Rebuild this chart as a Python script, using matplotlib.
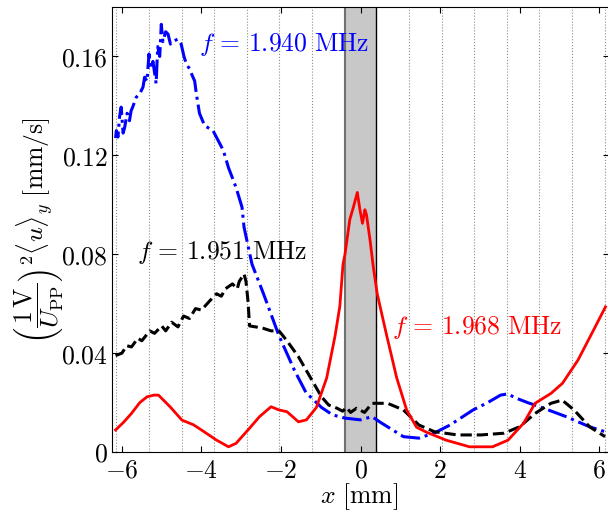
import numpy as np
import matplotlib
matplotlib.use("Agg")
import matplotlib.pyplot as plt

plt.rcParams['mathtext.fontset'] = 'cm'
plt.rcParams['font.family'] = 'serif'
plt.rcParams['font.serif'] = ['DejaVu Serif']

# f = 1.940 MHz (синяя, штрих-пунктир)
x_blue = [-6.16, -6.14, -6.10, -6.06, -6.02, -5.97, -5.93, -5.87, -5.81, -5.77, -5.73, -5.64,
          -5.55, -5.47, -5.43, -5.37, -5.32, -5.27, -5.22, -5.14, -5.10, -5.05, -5.01, -4.97,
          -4.90, -4.84, -4.78, -4.72, -4.60, -4.51, -4.44, -4.38, -4.30, -4.25, -4.17, -4.13,
          -4.05, -3.92, -3.71, -3.58, -3.45, -3.32, -3.13, -2.98, -2.93, -2.73, -2.44, -2.05,
          -1.66, -1.37, -0.98, -0.70, -0.39, 0.00, 0.29, 0.50, 0.68, 1.08, 1.47, 1.86, 2.25,
          2.83, 3.20, 3.52, 3.70, 3.91, 4.20, 4.59, 5.17, 5.50, 5.76, 6.15]
y_blue = [0.127, 0.130, 0.1274, 0.1355, 0.1395, 0.129, 0.1314, 0.137, 0.134, 0.138, 0.1395, 0.1435,
          0.145, 0.1476, 0.1516, 0.150, 0.161, 0.155, 0.158, 0.149, 0.164, 0.160, 0.173, 0.166,
          0.170, 0.169, 0.165, 0.166, 0.167, 0.165, 0.160, 0.157, 0.155, 0.153, 0.150, 0.145,
          0.137, 0.132, 0.130, 0.126, 0.122, 0.115, 0.107, 0.099, 0.091, 0.076, 0.064, 0.047,
          0.033, 0.024, 0.018, 0.015, 0.0137, 0.013, 0.0143, 0.012, 0.0102, 0.0062, 0.0056, 0.0077, 0.0109,
          0.017, 0.020, 0.023, 0.0235, 0.0218, 0.020, 0.0178, 0.0143, 0.012, 0.0102, 0.0082]

# f = 1.951 MHz (чёрная, штрихи)
x_black = [-6.16, -6.00, -5.88, -5.76, -5.60, -5.50, -5.30, -5.18, -5.00, -4.90, -4.75, -4.59,
           -4.45, -4.30, -4.15, -4.00, -3.80, -3.62, -3.50, -3.40, -3.22, -3.10, -3.05, -2.93,
           -2.88, -2.83, -2.79, -2.60, -2.44, -2.25, -2.05, -1.85, -1.56, -1.27, -0.98, -0.80,
           -0.59, -0.45, -0.35, -0.25, -0.10, 0.10, 0.29, 0.68, 1.08, 1.47, 1.86, 2.44,
           3.03, 3.61, 4.00, 4.39, 4.79, 5.07, 5.37, 5.76, 6.15]
y_black = [0.039, 0.040, 0.043, 0.0425, 0.046, 0.045, 0.049, 0.048, 0.051, 0.049, 0.0525, 0.0506,
           0.055, 0.054, 0.058, 0.0574, 0.061, 0.064, 0.063, 0.066, 0.068, 0.066, 0.069, 0.072,
           0.069, 0.061, 0.051, 0.0505, 0.050, 0.049, 0.049, 0.045, 0.0385, 0.0304, 0.0223, 0.019,
           0.0177, 0.0165, 0.018, 0.016, 0.0177, 0.016, 0.0197, 0.0197, 0.017, 0.0109, 0.0082, 0.0069,
           0.0069, 0.0076, 0.0102, 0.0156, 0.0197, 0.021, 0.017, 0.0102, 0.0062]

# f = 1.968 MHz (красная, сплошная)
x_red = [-6.16, -5.96, -5.76, -5.55, -5.37, -5.20, -5.08, -4.79, -4.49, -4.20, -4.00, -3.62,
         -3.32, -3.13, -2.83, -2.54, -2.25, -2.05, -1.85, -1.56, -1.36, -1.11, -0.85, -0.64,
         -0.52, -0.44, -0.39, -0.33, -0.27, -0.18, -0.08, -0.015, 0.05, 0.11, 0.15, 0.24,
         0.32, 0.42, 0.49, 0.66, 0.91, 1.16, 1.41, 1.66, 2.15, 2.74, 3.32, 3.71, 4.10, 4.39,
         4.79, 5.08, 5.47, 5.86, 6.16]
y_red = [0.0089, 0.012, 0.0156, 0.020, 0.0223, 0.023, 0.023, 0.0183, 0.0129, 0.011, 0.0089, 0.0048,
         0.0021, 0.0035, 0.0089, 0.0143, 0.0183, 0.017, 0.0163, 0.0122, 0.013, 0.018, 0.030, 0.047,
         0.059, 0.076, 0.080, 0.087, 0.094, 0.099, 0.105, 0.098, 0.0925, 0.098, 0.096, 0.0857,
         0.075, 0.064, 0.059, 0.047, 0.030, 0.017, 0.010, 0.0080, 0.0048, 0.0021, 0.0021, 0.0048, 0.0116, 0.0197,
         0.0237, 0.0278, 0.0372, 0.0493, 0.0587]

# положения пунктирных вертикальных линий (мм)
grid_x = [-6.14, -5.32, -4.50, -3.68, -2.86, -2.04, -1.22, 1.22, 2.04, 2.86, 3.68, 4.50, 5.32, 6.14]

x_ticks = [-6, -4, -2, 0, 2, 4, 6]
y_ticks = [0, 0.04, 0.08, 0.12, 0.16]
y_tick_labels = ['0', '0.04', '0.08', '0.12', '0.16']

fig = plt.figure(figsize=(6.08, 5.12), dpi=100)
ax = fig.add_axes([0.1842, 0.1172, 0.8175, 0.8691])

for gx in grid_x:
    ax.axvline(gx, color='#8c8c8c', linestyle=':', linewidth=0.8, zorder=0)

ax.axvspan(-0.4, 0.4, color='#c8c8c8', zorder=0.5, linewidth=0)
ax.axvline(-0.4, color='#707070', linewidth=1.5, zorder=0.6)
ax.axvline(0.4, color='black', linewidth=1.0, zorder=0.6)

ax.plot(x_blue, y_blue, color='blue', linestyle='-.', linewidth=2.2)
ax.plot(x_black, y_black, color='black', linestyle='--', linewidth=2.2)
ax.plot(x_red, y_red, color='red', linestyle='-', linewidth=2.0)

ax.text(-4.05, 0.165, r'$f\,=\,1.940\ \mathrm{MHz}$', color='blue', fontsize=18.5, va='center')
ax.text(-5.63, 0.0808, r'$f\,=\,1.951\ \mathrm{MHz}$', color='black', fontsize=18.5, va='center')
ax.text(0.78, 0.0505, r'$f\,=\,1.968\ \mathrm{MHz}$', color='red', fontsize=18.5, va='center')

ax.set_xlim(-6.25, 6.25)
ax.set_ylim(0, 0.18)
ax.set_xticks(x_ticks)
ax.set_xticklabels([r'$%d$' % t for t in x_ticks])
ax.set_yticks(y_ticks)
ax.set_yticklabels([r'$\mathrm{%s}$' % s for s in y_tick_labels])
ax.tick_params(direction='in', top=True, right=True, length=4, labelsize=18.5)
ax.tick_params(axis='y', pad=3)
ax.tick_params(axis='x', pad=4)

fig.text(0.59, 0.03, r'$x\ [\mathrm{mm}]$', fontsize=18.5, ha='center', va='center')
fig.text(0.063, 0.55, r'$\left(\dfrac{1\,\mathrm{V}}{U_{\mathrm{PP}}}\right)^2\langle u\rangle_y\ [\mathrm{mm/s}]$',
         fontsize=18.5, rotation=90, ha='center', va='center')

fig.savefig('out.png', dpi=100)
